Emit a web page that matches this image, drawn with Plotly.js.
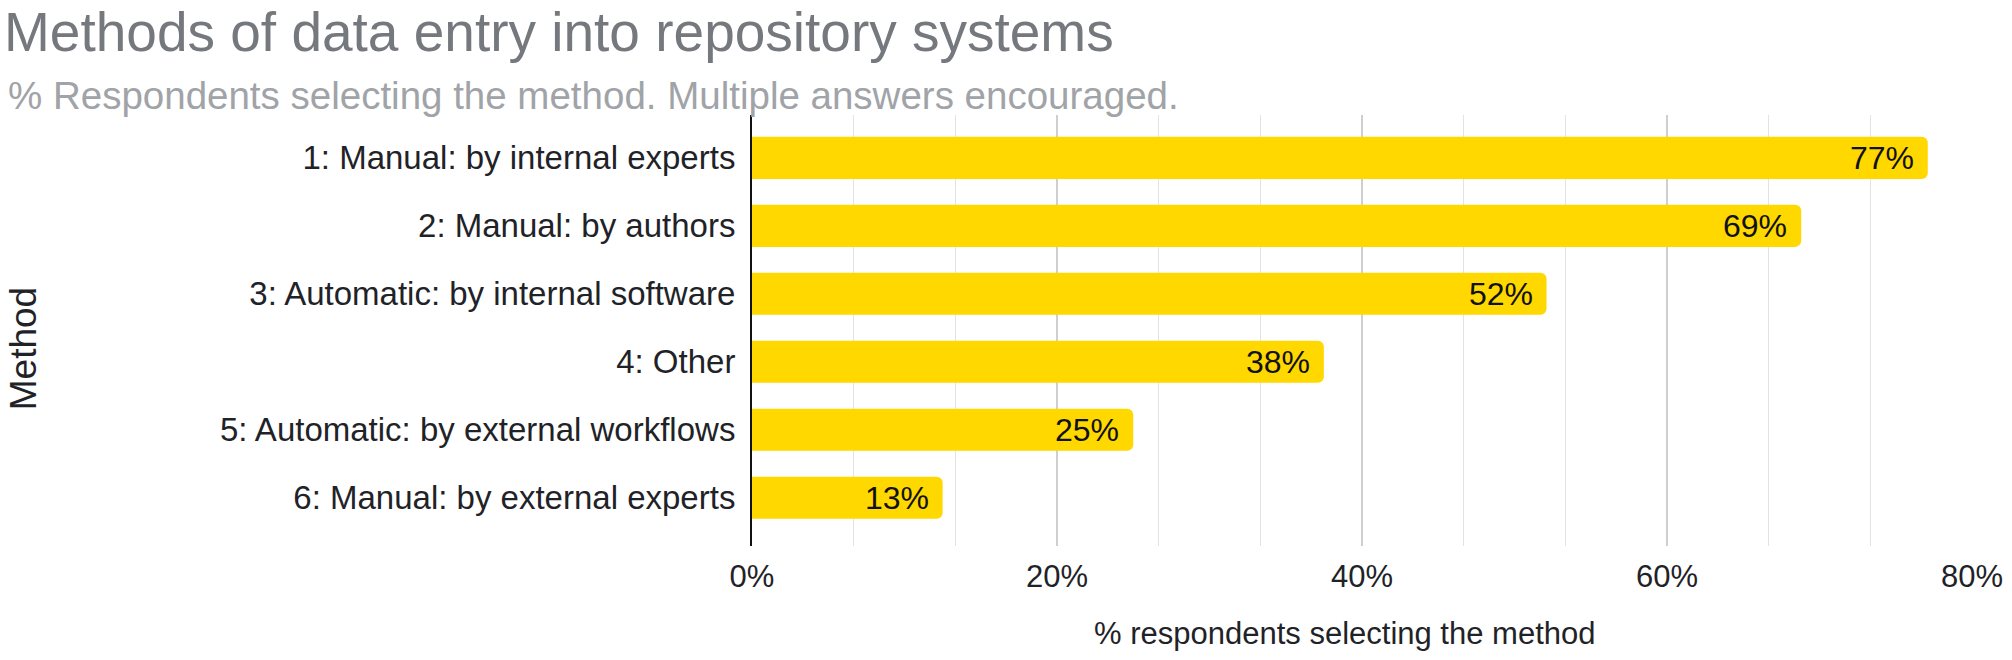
<!DOCTYPE html>
<html>
<head>
<meta charset="utf-8">
<script src="https://cdn.plot.ly/plotly-3.0.1.min.js"></script>
<style>
html, body { margin: 0; padding: 0; background: #fff; }
#chart { width: 2012px; height: 660px; }
</style>
</head>
<body>
<div id="chart"></div>
<script>
const categories = [
  "1: Manual: by internal experts",
  "2: Manual: by authors",
  "3: Automatic: by internal software",
  "4: Other",
  "5: Automatic: by external workflows",
  "6: Manual: by external experts"
];
const values = [77.1, 68.8, 52.1, 37.5, 25.0, 12.5];
const valueLabels = ["77%", "69%", "52%", "38%", "25%", "13%"];
const xTickValues = [0, 20, 40, 60, 80];
const xTickLabels = ["0%", "20%", "40%", "60%", "80%"];

const titleText = "Methods of data entry into repository systems";
const subtitleText = "% Respondents selecting the method. Multiple answers encouraged.";
const xTitleText = "% respondents selecting the method";
const yTitleText = "Method";

const FONT = "Liberation Sans, Arial, Helvetica, sans-serif";
const TEXT = "#1f2328";

const trace = {
  type: "bar",
  orientation: "h",
  x: values,
  y: categories,
  marker: { color: "#FFD800", cornerradius: 6 },
  hoverinfo: "x+y"
};

const annotations = values.map((v, i) => ({
  x: v, y: categories[i], xref: "x", yref: "y",
  text: valueLabels[i], showarrow: false,
  xanchor: "right", yanchor: "middle", xshift: -12,
  font: { family: FONT, size: 32, color: "#111" }
}));

annotations.push({
  text: subtitleText, showarrow: false,
  xref: "paper", yref: "paper",
  x: -0.6115, y: 1.046, xanchor: "left", yanchor: "middle",
  font: { family: FONT, size: 38.5, color: "#a0a3a7" }
});
annotations.push({
  text: yTitleText, showarrow: false, textangle: -90,
  xref: "paper", yref: "paper",
  x: -0.597, y: 0.458, xanchor: "center", yanchor: "middle",
  font: { family: FONT, size: 37, color: TEXT }
});
annotations.push({
  text: xTitleText, showarrow: false,
  xref: "paper", yref: "paper",
  x: 0.486, y: -0.204, xanchor: "center", yanchor: "middle",
  font: { family: FONT, size: 31, color: TEXT }
});

const layout = {
  width: 2012, height: 660,
  margin: { l: 752, r: 40, t: 115, b: 114 },
  paper_bgcolor: "#fff", plot_bgcolor: "#fff",
  font: { family: FONT, color: TEXT },
  bargap: 0.38,
  showlegend: false,
  title: {
    text: titleText,
    font: { family: FONT, size: 55, color: "#75787d" },
    xref: "container", yref: "container",
    x: 0.002, xanchor: "left",
    y: 0.952, yanchor: "middle"
  },
  xaxis: {
    range: [0, 80],
    tickvals: xTickValues,
    ticktext: xTickLabels,
    tickfont: { family: FONT, size: 31, color: TEXT },
    showgrid: true, gridcolor: "#cfcfcf", gridwidth: 2,
    minor: { dtick: 20 / 3, showgrid: true, gridcolor: "#e3e3e3", gridwidth: 1.5 },
    zeroline: false, showline: false,
    ticks: "", ticklabelstandoff: 9,
    fixedrange: true
  },
  yaxis: {
    type: "category",
    range: [5.71, -0.63],
    tickfont: { family: FONT, size: 33, color: TEXT },
    showgrid: false,
    showline: true, linecolor: "#111", linewidth: 2,
    ticks: "", ticklabelstandoff: 8,
    fixedrange: true
  },
  annotations: annotations
};

Plotly.newPlot("chart", [trace], layout, { displayModeBar: false, staticPlot: true });
</script>
</body>
</html>
